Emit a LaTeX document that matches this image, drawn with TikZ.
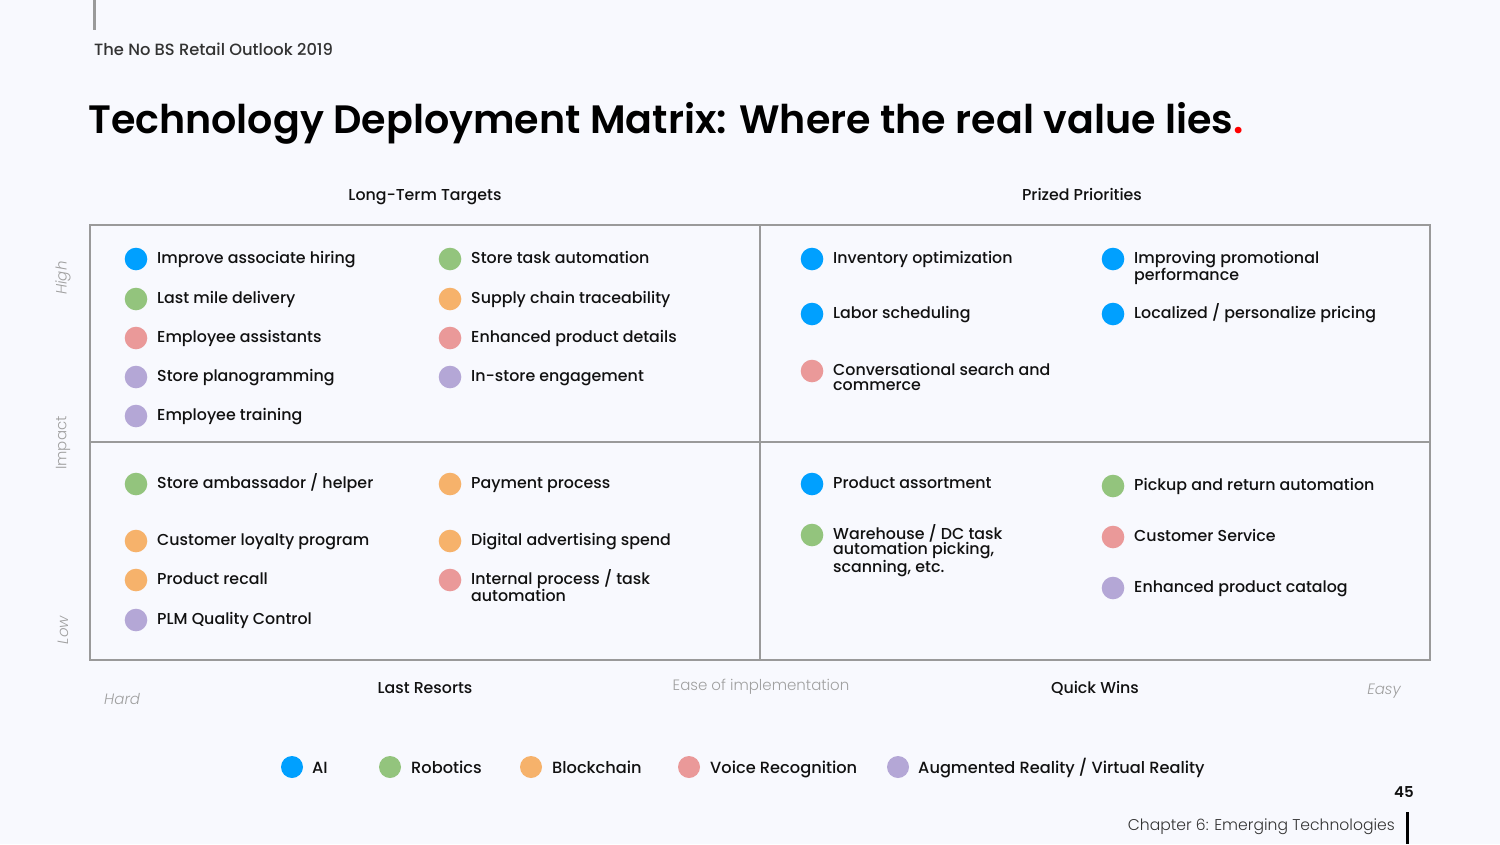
\documentclass[tikz,border=0pt]{standalone}
\usepackage{fontspec}
\setmainfont{Poppins}
\newfontfamily\medfont{Poppins Medium}
\newfontfamily\semifont{Poppins SemiBold}
\newfontfamily\lightfont{Poppins Light}[ItalicFont={Poppins Light Italic}]
\usetikzlibrary{calc}
\definecolor{bg}{HTML}{F8F9FE}
\definecolor{cAI}{HTML}{00A0FF}
\definecolor{cRob}{HTML}{93C47D}
\definecolor{cBlk}{HTML}{F6B26B}
\definecolor{cVoi}{HTML}{EA9999}
\definecolor{cAR}{HTML}{B4A7D6}
\definecolor{ink}{HTML}{111111}
\definecolor{frame}{HTML}{9A9A9A}
\definecolor{soft}{HTML}{A0A0A0}
\definecolor{mid}{HTML}{333333}
\tikzset{
  itemtxt/.style={anchor=base west, inner sep=0pt, text=ink, font=\medfont\fontsize{15.85}{15.5}\selectfont},
  hdr/.style={anchor=base, inner sep=0pt, text=ink, font=\medfont\fontsize{15.8}{16}\selectfont},
  axis/.style={inner sep=0pt, text=soft, font=\lightfont\fontsize{15}{16}\selectfont},
  axisit/.style={inner sep=0pt, text=soft, font=\lightfont\fontsize{15}{16}\selectfont\itshape},
  legtxt/.style={anchor=base west, inner sep=0pt, text=ink, font=\medfont\fontsize{16.2}{16}\selectfont},
}
\newcommand\itm[5]{%
  \fill[#4] (#2,#3) circle[radius=11.3pt];
  \node[itemtxt] (#1) at (#2+21,#3+4) {\vtop{\baselineskip=15.5pt\relax #5}};}
\begin{document}
\begin{tikzpicture}[x=1pt,y=-1pt]
\useasboundingbox (0,0) rectangle (1500,844);
\fill[bg] (0,0) rectangle (1500,844);
% top bar and running head
\draw[frame, line width=3pt] (94,0) -- (94,30);
\node[anchor=base west, inner sep=0pt, text=mid, font=\medfont\fontsize{16.3}{16}\selectfont] (head) at (94,55.5) {The No BS Retail Outlook 2019};
% title
\node[anchor=base west, inner sep=0pt, text=black, font=\semifont\fontsize{39.6}{40}\selectfont] (title) at (88,133) {Technology Deployment Matrix: Where the real value lies\textcolor{red}{.}};
% quadrant headers
\node[hdr] (lt) at (425,200) {Long-Term Targets};
\node[hdr] (pp) at (1082,200) {Prized Priorities};
\node[hdr] (lr) at (425,693) {Last Resorts};
\node[hdr] (qw) at (1095,693) {Quick Wins};
% matrix frame
\draw[frame, line width=2pt] (90,225) rectangle (1430,660);
\draw[frame, line width=2pt] (760,225) -- (760,660);
\draw[frame, line width=2pt] (90,442) -- (1430,442);
% axis labels
\node[axisit, rotate=90] (high) at (63,278) {High};
\node[axis, rotate=90] (impact) at (63,443) {Impact};
\node[axisit, rotate=90] (low) at (63,630) {Low};
\node[axisit, anchor=base west] (hard) at (104,704) {Hard};
\node[axis, anchor=base] (ease) at (761,690) {Ease of implementation};
\node[axisit, anchor=base east] (easy) at (1401,694) {Easy};
% upper left
\itm{a1}{136}{259}{cAI}{\hbox{Improve associate hiring}}
\itm{a2}{136}{299}{cRob}{\hbox{Last mile delivery}}
\itm{a3}{136}{338}{cVoi}{\hbox{Employee assistants}}
\itm{a4}{136}{377}{cAR}{\hbox{Store planogramming}}
\itm{a5}{136}{416}{cAR}{\hbox{Employee training}}
\itm{b1}{450}{259}{cRob}{\hbox{Store task automation}}
\itm{b2}{450}{299}{cBlk}{\hbox{Supply chain traceability}}
\itm{b3}{450}{338}{cVoi}{\hbox{Enhanced product details}}
\itm{b4}{450}{377}{cAR}{\hbox{In-store engagement}}
% upper right
\itm{c1}{812}{259}{cAI}{\hbox{Inventory optimization}}
\itm{c2}{812}{314}{cAI}{\hbox{Labor scheduling}}
\itm{c3}{812}{371}{cVoi}{\hbox{Conversational search and}\hbox{commerce}}
\itm{d1}{1113}{259}{cAI}{\hbox{Improving promotional}\hbox{performance}}
\itm{d2}{1113}{314}{cAI}{\hbox{Localized / personalize pricing}}
% lower left
\itm{e1}{136}{484}{cRob}{\hbox{Store ambassador / helper}}
\itm{e2}{136}{541}{cBlk}{\hbox{Customer loyalty program}}
\itm{e3}{136}{580}{cBlk}{\hbox{Product recall}}
\itm{e4}{136}{620}{cAR}{\hbox{PLM Quality Control}}
\itm{f1}{450}{484}{cBlk}{\hbox{Payment process}}
\itm{f2}{450}{541}{cBlk}{\hbox{Digital advertising spend}}
\itm{f3}{450}{580}{cVoi}{\hbox{Internal process / task}\hbox{automation}}
% lower right
\itm{g1}{812}{484}{cAI}{\hbox{Product assortment}}
\itm{g2}{812}{535}{cRob}{\hbox{Warehouse / DC task}\hbox{automation picking,}\hbox{scanning, etc.}}
\itm{h1}{1113}{486}{cRob}{\hbox{Pickup and return automation}}
\itm{h2}{1113}{537}{cVoi}{\hbox{Customer Service}}
\itm{h3}{1113}{588}{cAR}{\hbox{Enhanced product catalog}}
% legend
\fill[cAI] (292,767) circle[radius=11pt];
\node[legtxt] (lAI) at (312,773) {AI};
\fill[cRob] (390,767) circle[radius=11pt];
\node[legtxt] (lRob) at (411,773) {Robotics};
\fill[cBlk] (531,767) circle[radius=11pt];
\node[legtxt] (lBlk) at (552,773) {Blockchain};
\fill[cVoi] (689,767) circle[radius=11pt];
\node[legtxt] (lVoi) at (710,773) {Voice Recognition};
\fill[cAR] (898,767) circle[radius=11pt];
\node[legtxt] (lAR) at (918,773) {Augmented Reality / Virtual Reality};
% footer
\node[anchor=base east, inner sep=0pt, text=ink, font=\semifont\fontsize{15}{16}\selectfont] (page) at (1414,797) {45};
\node[anchor=base east, inner sep=0pt, text=mid, font=\lightfont\fontsize{15.6}{16}\selectfont] (chap) at (1395,830) {Chapter 6: Emerging Technologies};
\draw[black, line width=3pt] (1407,812) -- (1407,844);
\end{tikzpicture}
\end{document}
